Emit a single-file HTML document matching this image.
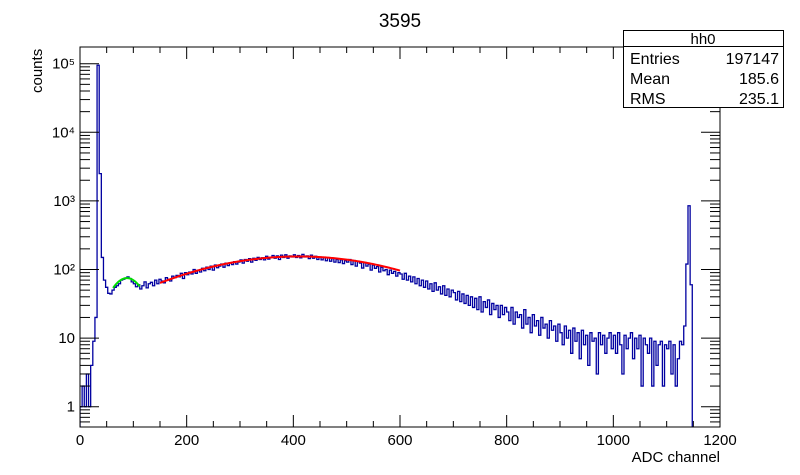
<!DOCTYPE html>
<html><head><meta charset="utf-8"><style>
body{margin:0;background:#fff;}
svg{display:block;font-family:"Liberation Sans",sans-serif;}
</style></head><body>
<svg id="c" width="800" height="475" viewBox="0 0 800 475">
<text x="400" y="27" text-anchor="middle" font-size="19">3595</text>
<g id="plot"></g>
<g id="axes"></g>
<text x="720" y="462" text-anchor="end" font-size="15">ADC channel</text>
<text transform="translate(42,93) rotate(-90)" font-size="15">counts</text>
<g>
<rect x="623.5" y="30.5" width="160" height="77" fill="#fff" stroke="#000" stroke-width="1"/>
<line x1="623.5" y1="46.5" x2="783.5" y2="46.5" stroke="#000"/>
<text x="703" y="44" text-anchor="middle" font-size="15">hh0</text>
<text x="630" y="64" font-size="16">Entries</text><text x="779" y="64" text-anchor="end" font-size="16">197147</text>
<text x="630" y="84" font-size="16">Mean</text><text x="779" y="84" text-anchor="end" font-size="16">185.6</text>
<text x="630" y="104" font-size="16">RMS</text><text x="779" y="104" text-anchor="end" font-size="16">235.1</text>
</g>
</svg>
<script>
const binWidth = 4;
const counts = [
1,2,1,3,1,4,9,20,95000,2500,150,70,55,45,44,50,55,58,62,70,72,75,78,74,66,
62,56,60,52,58,66,54,62,65,58,70,62,72,68,64,76,72,68,80,76,82,78,88,74,90,
84,92,86,100,88,98,92,104,96,108,100,112,98,116,106,112,120,108,124,114,126,118,130,120,128,
138,124,140,132,144,128,146,136,150,140,148,138,156,142,150,160,146,158,140,162,150,164,146,158,152,
164,150,160,148,166,152,158,144,162,146,156,140,152,138,150,134,148,132,144,128,140,126,138,122,134,
128,140,118,135,112,130,124,105,126,112,120,98,116,104,110,92,108,96,100,84,98,88,94,80,90,
86,72,88,70,80,66,78,62,74,58,70,55,68,52,62,48,64,50,56,44,58,42,52,40,50,
46,36,48,34,44,32,42,30,40,28,38,26,40,24,34,28,36,22,32,26,30,20,30,22,28,
24,18,28,16,24,20,22,14,26,16,20,12,22,15,18,11,20,14,16,10,18,13,15,9,16,
12,8,15,10,13,6,14,9,12,5,13,8,11,4,12,9,10,3,12,8,11,6,10,12,7,
11,6,12,8,3,11,7,10,12,5,10,7,11,2,10,8,6,10,2,9,4,8,9,2,8,
7,9,3,8,2,5,9,8,15,120,850,60,0,0,0,0,0,0,0,0,0,0,0,0,0];
const xTicks = [0,200,400,600,800,1000,1200];
const yTickLabels = ["1","10","10²","10³","10⁴","10⁵"];
const greenFit = [75, 88, 32, 62, 112];   // amp, mean, sigma, from, to
const redFit = [155, 410, 195, 150, 600];

const X0=80,X1=720,Y0=427,Y1=47;
const xmin=0,xmax=1200;
const yDec=68.6, yOne=406.7;
const sx=v=>X0+(v-xmin)/(xmax-xmin)*(X1-X0);
const sy=v=>v<=0?Y0+5:Math.min(Y0+5,yOne-yDec*Math.log10(v));
const NS='http://www.w3.org/2000/svg';
function mk(t,a,p){const e=document.createElementNS(NS,t);for(const k in a)e.setAttribute(k,a[k]);p.appendChild(e);return e;}
const plot=document.getElementById('plot'), axes=document.getElementById('axes');
mk('clipPath',{id:'cp'},plot).appendChild(document.createElementNS(NS,'rect'));
const cr=plot.querySelector('clipPath rect');cr.setAttribute('x',X0);cr.setAttribute('y',Y1);cr.setAttribute('width',X1-X0);cr.setAttribute('height',Y0-Y1);
let d='M'+sx(0)+','+Y0;
counts.forEach((c,i)=>{const xa=sx(i*binWidth),xb=sx((i+1)*binWidth),y=sy(c);d+=` L${xa},${y} L${xb},${y}`;});
const h=mk('path',{d:d,fill:'none',stroke:'#0000a0','stroke-width':1.3,'clip-path':'url(#cp)'},plot);


function fit(p,col,name){let s='';for(let x=p[3];x<=p[4];x+=2){const v=p[0]*Math.exp(-((x-p[1])**2)/(2*p[2]*p[2]));s+=(s?' L':'M')+sx(x)+','+sy(v);}
const e=mk('path',{d:s,fill:'none',stroke:col,'stroke-width':2},plot);

}
fit(greenFit,'#00dd00','green-fit-curve');
fit(redFit,'#ff0000','red-fit-curve');
mk('rect',{x:X0,y:Y1,width:X1-X0,height:Y0-Y1,fill:'none',stroke:'#000','stroke-width':1},axes);
for(let v=xmin;v<=xmax;v+=50){const maj=v%200===0,L=maj?12:6,x=sx(v);
mk('line',{x1:x,y1:Y0,x2:x,y2:Y0-L,stroke:'#000'},axes);mk('line',{x1:x,y1:Y1,x2:x,y2:Y1+L,stroke:'#000'},axes);}
xTicks.forEach(v=>{const t=mk('text',{x:sx(v),y:Y0+18,'text-anchor':'middle','font-size':15},axes);t.textContent=v;

});
for(let e=-1;e<=5;e++){for(let m=1;m<=9;m++){const v=m*Math.pow(10,e),y=sy(v);if(y>Y0||y<Y1)continue;const L=m===1?19:10;
mk('line',{x1:X0,y1:y,x2:X0+L,y2:y,stroke:'#000'},axes);mk('line',{x1:X1,y1:y,x2:X1-L,y2:y,stroke:'#000'},axes);}}
yTickLabels.forEach((lab,i)=>{const t=mk('text',{x:X0-5,y:sy(Math.pow(10,i))+5,'text-anchor':'end','font-size':15},axes);t.textContent=lab;

});
</script>
</body></html>
